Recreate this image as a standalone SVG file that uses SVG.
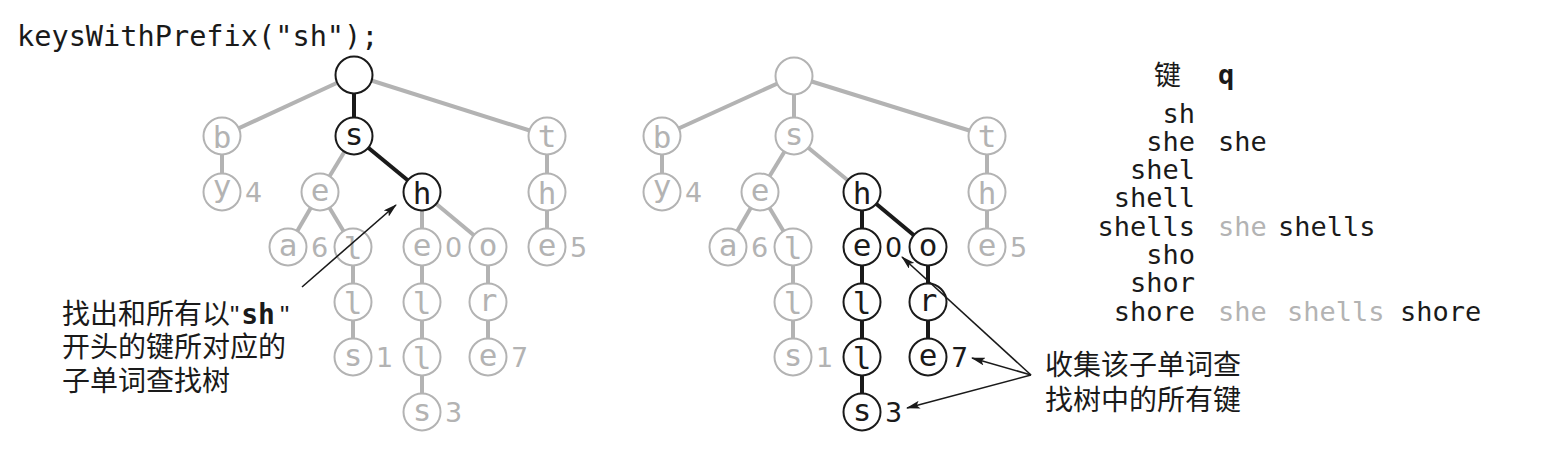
<svg xmlns="http://www.w3.org/2000/svg" width="1568" height="450" viewBox="0 0 1568 450">
<style>
.eg{stroke:#b3b3b3;stroke-width:4;fill:none}
.ek{stroke:#1a1a1a;stroke-width:4;fill:none}
.ng circle{fill:#fff;stroke:#b3b3b3;stroke-width:2}
.nk circle{fill:#fff;stroke:#1a1a1a;stroke-width:2}
.ng text{fill:#b3b3b3}
.nk text{fill:#1a1a1a}
.lt{font-family:"DejaVu Sans Mono",monospace;font-size:31px;text-anchor:middle}
.num{font-family:"DejaVu Sans",sans-serif;font-size:27px}
.gnum{fill:#b3b3b3}
.knum{fill:#1a1a1a}
.mono{font-family:"DejaVu Sans Mono",monospace;font-size:27px;fill:#1a1a1a}
.cjk{font-family:"Noto Sans CJK SC",sans-serif;font-size:28px;fill:#1a1a1a}
.arr{stroke:#1a1a1a;stroke-width:1.6;fill:none;marker-end:url(#ah)}
.gray{fill:#b3b3b3}
</style>
<defs>
<marker id="ah" viewBox="0 0 14 8" refX="13" refY="4" markerWidth="14" markerHeight="8" markerUnits="userSpaceOnUse" orient="auto">
<path d="M0,0 L14,4 L0,8 L3,4 z" fill="#1a1a1a"/>
</marker>
</defs>

<text x="17" y="46" style="font-family:'DejaVu Sans Mono',monospace;font-size:28.6px;fill:#1a1a1a">keysWithPrefix("sh");</text>

<g id="connectors">
<!-- left tree -->
<line class="eg" x1="354" y1="75" x2="222" y2="136"/>
<line class="ek" x1="354" y1="75" x2="354" y2="136"/>
<line class="eg" x1="354" y1="75" x2="547" y2="136"/>
<line class="eg" x1="222" y1="136" x2="222" y2="192"/>
<line class="eg" x1="354" y1="136" x2="320" y2="192"/>
<line class="ek" x1="354" y1="136" x2="422" y2="192"/>
<line class="eg" x1="547" y1="136" x2="547" y2="192"/>
<line class="eg" x1="320" y1="192" x2="288" y2="247"/>
<line class="eg" x1="320" y1="192" x2="353" y2="247"/>
<line class="eg" x1="422" y1="192" x2="422" y2="247"/>
<line class="eg" x1="422" y1="192" x2="488" y2="247"/>
<line class="eg" x1="547" y1="192" x2="547" y2="247"/>
<line class="eg" x1="353" y1="247" x2="353" y2="357"/>
<line class="eg" x1="422" y1="247" x2="422" y2="412"/>
<line class="eg" x1="488" y1="247" x2="488" y2="357"/>
<!-- right tree -->
<line class="eg" x1="794" y1="76" x2="662" y2="136"/>
<line class="eg" x1="794" y1="76" x2="794" y2="136"/>
<line class="eg" x1="794" y1="76" x2="987" y2="136"/>
<line class="eg" x1="662" y1="136" x2="662" y2="192"/>
<line class="eg" x1="794" y1="136" x2="760" y2="192"/>
<line class="eg" x1="794" y1="136" x2="862" y2="192"/>
<line class="eg" x1="987" y1="136" x2="987" y2="192"/>
<line class="eg" x1="760" y1="192" x2="728" y2="247"/>
<line class="eg" x1="760" y1="192" x2="793" y2="247"/>
<line class="ek" x1="862" y1="192" x2="862" y2="412"/>
<line class="ek" x1="862" y1="192" x2="928" y2="247"/>
<line class="eg" x1="987" y1="192" x2="987" y2="247"/>
<line class="eg" x1="793" y1="247" x2="793" y2="357"/>
<line class="ek" x1="928" y1="247" x2="928" y2="357"/>
</g>

<!-- left tree nodes -->
<g id="L-root" class="nk"><circle cx="354" cy="75" r="18.5"/></g>
<g id="L-b" class="ng"><circle cx="222" cy="136" r="18.5"/><text class="lt" x="222" y="147.5">b</text></g>
<g id="L-s" class="nk"><circle cx="354" cy="136" r="18.5"/><text class="lt" x="354" y="144.5">s</text></g>
<g id="L-t" class="ng"><circle cx="547" cy="136" r="18.5"/><text class="lt" x="547" y="146.5">t</text></g>
<g id="L-y" class="ng"><circle cx="222" cy="192" r="18.5"/><text class="lt" x="222" y="197">y</text><text class="num gnum" x="245" y="201.5">4</text></g>
<g id="L-e" class="ng"><circle cx="320" cy="192" r="18.5"/><text class="lt" x="320" y="200.5">e</text></g>
<g id="L-h" class="nk"><circle cx="422" cy="192" r="18.5"/><text class="lt" x="422" y="203.5">h</text></g>
<g id="L-th" class="ng"><circle cx="547" cy="192" r="18.5"/><text class="lt" x="547" y="203.5">h</text></g>
<g id="L-a" class="ng"><circle cx="288" cy="247" r="18.5"/><text class="lt" x="288" y="255.5">a</text><text class="num gnum" x="311" y="256.5">6</text></g>
<g id="L-l1" class="ng"><circle cx="353" cy="247" r="18.5"/><text class="lt" x="353" y="258.5">l</text></g>
<g id="L-he" class="ng"><circle cx="422" cy="247" r="18.5"/><text class="lt" x="422" y="255.5">e</text><text class="num gnum" x="445" y="256.5">0</text></g>
<g id="L-o" class="ng"><circle cx="488" cy="247" r="18.5"/><text class="lt" x="488" y="255.5">o</text></g>
<g id="L-te" class="ng"><circle cx="547" cy="247" r="18.5"/><text class="lt" x="547" y="255.5">e</text><text class="num gnum" x="570" y="256.5">5</text></g>
<g id="L-l2" class="ng"><circle cx="353" cy="302" r="18.5"/><text class="lt" x="353" y="313.5">l</text></g>
<g id="L-hl1" class="ng"><circle cx="422" cy="302" r="18.5"/><text class="lt" x="422" y="313.5">l</text></g>
<g id="L-r" class="ng"><circle cx="488" cy="302" r="18.5"/><text class="lt" x="488" y="310.5">r</text></g>
<g id="L-s1" class="ng"><circle cx="353" cy="357" r="18.5"/><text class="lt" x="353" y="365.5">s</text><text class="num gnum" x="376" y="366.5">1</text></g>
<g id="L-hl2" class="ng"><circle cx="422" cy="357" r="18.5"/><text class="lt" x="422" y="368.5">l</text></g>
<g id="L-oe" class="ng"><circle cx="488" cy="357" r="18.5"/><text class="lt" x="488" y="365.5">e</text><text class="num gnum" x="511" y="366.5">7</text></g>
<g id="L-hs" class="ng"><circle cx="422" cy="412" r="18.5"/><text class="lt" x="422" y="420.5">s</text><text class="num gnum" x="445" y="421.5">3</text></g>

<!-- right tree nodes -->
<g id="R-root" class="ng"><circle cx="794" cy="76" r="18.5"/></g>
<g id="R-b" class="ng"><circle cx="662" cy="136" r="18.5"/><text class="lt" x="662" y="147.5">b</text></g>
<g id="R-s" class="ng"><circle cx="794" cy="136" r="18.5"/><text class="lt" x="794" y="144.5">s</text></g>
<g id="R-t" class="ng"><circle cx="987" cy="136" r="18.5"/><text class="lt" x="987" y="146.5">t</text></g>
<g id="R-y" class="ng"><circle cx="662" cy="192" r="18.5"/><text class="lt" x="662" y="197">y</text><text class="num gnum" x="685" y="201.5">4</text></g>
<g id="R-e" class="ng"><circle cx="760" cy="192" r="18.5"/><text class="lt" x="760" y="200.5">e</text></g>
<g id="R-h" class="nk"><circle cx="862" cy="192" r="18.5"/><text class="lt" x="862" y="203.5">h</text></g>
<g id="R-th" class="ng"><circle cx="987" cy="192" r="18.5"/><text class="lt" x="987" y="203.5">h</text></g>
<g id="R-a" class="ng"><circle cx="728" cy="247" r="18.5"/><text class="lt" x="728" y="255.5">a</text><text class="num gnum" x="751" y="256.5">6</text></g>
<g id="R-l1" class="ng"><circle cx="793" cy="247" r="18.5"/><text class="lt" x="793" y="258.5">l</text></g>
<g id="R-he" class="nk"><circle cx="862" cy="247" r="18.5"/><text class="lt" x="862" y="255.5">e</text><text class="num knum" x="885" y="256.5">0</text></g>
<g id="R-o" class="nk"><circle cx="928" cy="247" r="18.5"/><text class="lt" x="928" y="255.5">o</text></g>
<g id="R-te" class="ng"><circle cx="987" cy="247" r="18.5"/><text class="lt" x="987" y="255.5">e</text><text class="num gnum" x="1010" y="256.5">5</text></g>
<g id="R-l2" class="ng"><circle cx="793" cy="302" r="18.5"/><text class="lt" x="793" y="313.5">l</text></g>
<g id="R-hl1" class="nk"><circle cx="862" cy="302" r="18.5"/><text class="lt" x="862" y="313.5">l</text></g>
<g id="R-r" class="nk"><circle cx="928" cy="302" r="18.5"/><text class="lt" x="928" y="310.5">r</text></g>
<g id="R-s1" class="ng"><circle cx="793" cy="357" r="18.5"/><text class="lt" x="793" y="365.5">s</text><text class="num gnum" x="816" y="366.5">1</text></g>
<g id="R-hl2" class="nk"><circle cx="862" cy="357" r="18.5"/><text class="lt" x="862" y="368.5">l</text></g>
<g id="R-oe" class="nk"><circle cx="928" cy="357" r="18.5"/><text class="lt" x="928" y="365.5">e</text><text class="num knum" x="951" y="366.5">7</text></g>
<g id="R-hs" class="nk"><circle cx="862" cy="412" r="18.5"/><text class="lt" x="862" y="420.5">s</text><text class="num knum" x="885" y="421.5">3</text></g>

<!-- annotations -->
<g id="annotation-left">
<line class="arr" x1="302" y1="287" x2="396" y2="205"/>
<text class="cjk" x="62" y="324">找出和所有以<tspan style="font-family:'Liberation Sans',sans-serif;font-size:26px">"</tspan><tspan dx="2" style="font-family:'DejaVu Sans Mono',monospace;font-weight:bold">sh</tspan><tspan dx="5" style="font-family:'Liberation Sans',sans-serif;font-size:26px">"</tspan><tspan x="62" y="357">开头的键所对应的</tspan><tspan x="62" y="391">子单词查找树</tspan></text>
</g>
<g id="annotation-right">
<line class="arr" x1="1031" y1="375" x2="902" y2="257"/>
<line class="arr" x1="1031" y1="375" x2="972" y2="358"/>
<line class="arr" x1="1031" y1="375" x2="907" y2="408"/>
<text class="cjk" x="1045" y="375">收集该子单词查<tspan x="1045" y="410">找树中的所有键</tspan></text>
</g>

<!-- table -->
<g id="table">
<text x="1181" y="85" style="font-family:'Noto Sans CJK SC',sans-serif;font-size:27px;fill:#1a1a1a;text-anchor:end">键</text>
<text x="1218" y="84" class="mono" style="font-weight:bold">q</text>
<text class="mono" style="text-anchor:end" x="1195" y="123">sh<tspan x="1195" y="151">she</tspan><tspan x="1195" y="179">shel</tspan><tspan x="1195" y="207">shell</tspan><tspan x="1195" y="236">shells</tspan><tspan x="1195" y="264">sho</tspan><tspan x="1195" y="292">shor</tspan><tspan x="1195" y="321">shore</tspan></text>
<text class="mono" x="1218" y="151">she</text>
<text class="mono gray" x="1218" y="236">she</text>
<text class="mono" x="1278" y="236">shells</text>
<text class="mono gray" x="1218" y="321">she</text>
<text class="mono gray" x="1287" y="321">shells</text>
<text class="mono" x="1400" y="321">shore</text>
</g>
</svg>
